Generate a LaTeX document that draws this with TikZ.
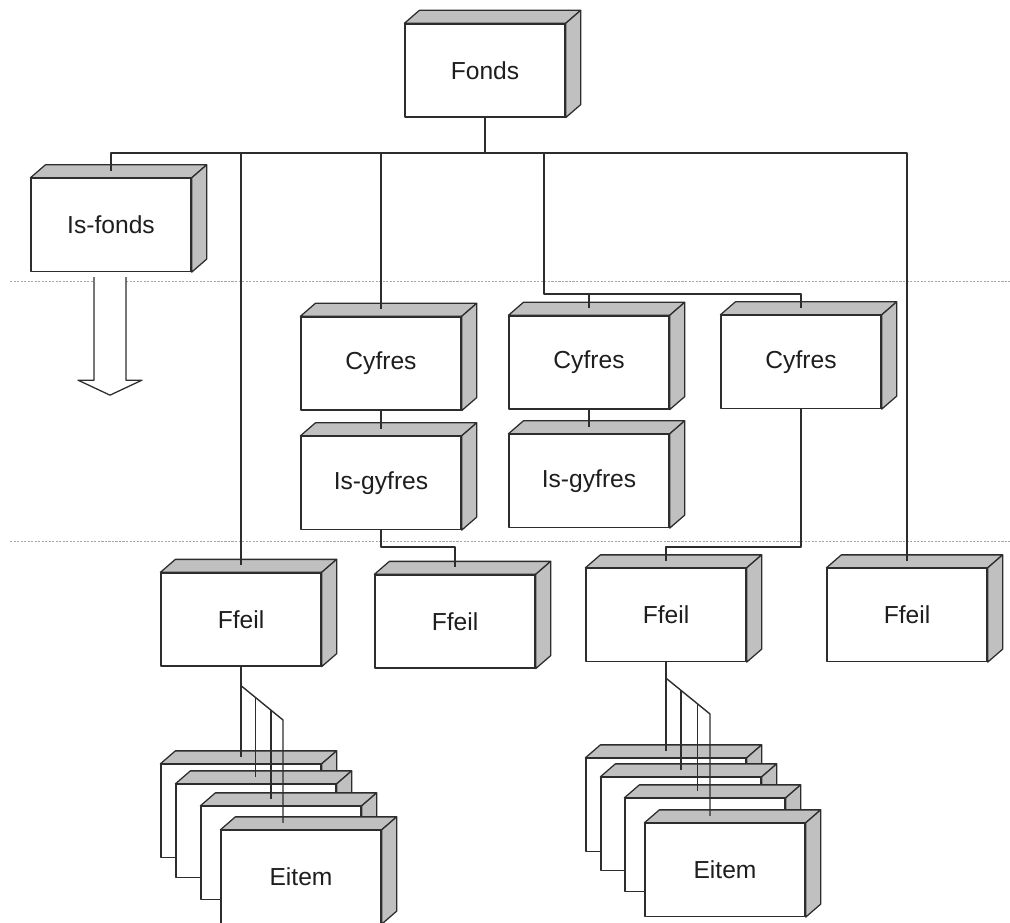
\documentclass[tikz,border=0pt]{standalone}
\usepackage{fontspec}
\setmainfont{Liberation Sans}
\usetikzlibrary{calc}
\definecolor{sidegray}{RGB}{192,192,192}
\definecolor{textgray}{RGB}{30,30,30}
\definecolor{linegray}{RGB}{45,45,45}
\tikzset{
  crate/.style={draw,fill=white,minimum width=4cm,minimum height=2.325cm,inner sep=0pt,
    font=\fontsize{17.5}{21}\selectfont,text=textgray},
  link/.style={line width=1pt},
  divider/.style={gray!70,line width=0.7pt,dash pattern=on 1.5pt off 1pt}
}
% a box with a grey top and right side
\newcommand{\bocs}[3]{%
  \node[crate] (#1) at (#2) {#3};
  \filldraw[fill=sidegray] (#1.north west) -- ($(#1.north west)+(15,-13)$)
    -- ($(#1.north east)+(15,-13)$) -- (#1.north east) -- cycle;
  \filldraw[fill=sidegray] (#1.north east) -- ($(#1.north east)+(15,-13)$)
    -- ($(#1.south east)+(15,-13)$) -- (#1.south east) -- cycle;
  \coordinate (#1-top) at ($(#1.north)+(0,-7)$);
}
\begin{document}
\begin{tikzpicture}[x=0.025cm,y=-0.025cm,line width=0.9pt,line join=round,draw=linegray]
\useasboundingbox (0,0) rectangle (1010,922);
\draw[divider] (10,281)--(1010,281);
\draw[divider] (10,541)--(1010,541);
% levels
\bocs{fonds}{485,70.5}{Fonds}
\bocs{isfonds}{111,225}{Is-fonds}
\bocs{cyfres1}{381,363.5}{Cyfres}
\bocs{isgyfres1}{381,483}{Is-gyfres}
\bocs{cyfres2}{589,362.5}{Cyfres}
\bocs{isgyfres2}{589,481}{Is-gyfres}
\bocs{cyfres3}{801,362}{Cyfres}
\bocs{ffeil1}{241,619.5}{Ffeil}
\bocs{ffeil2}{455,621.5}{Ffeil}
\bocs{ffeil3}{666,615}{Ffeil}
\bocs{ffeil4}{907,615}{Ffeil}
% items
\bocs{eitemA1}{241,811}{}
\bocs{eitemA2}{256,831}{}
\bocs{eitemA3}{281,853}{}
\bocs{eitemA4}{301,877}{Eitem}
\bocs{eitemB1}{666,805}{}
\bocs{eitemB2}{681,824}{}
\bocs{eitemB3}{705,845}{}
\bocs{eitemB4}{725,870}{Eitem}
% arrow below Is-fonds
\coordinate (drop) at ($(isfonds.south)+(-1,5)$);
\filldraw[fill=white] ($(drop)+(-16,0)$) -- ++(0,103) -- ++(-16,0) -- ($(drop)+(0,118)$)
  -- ($(drop)+(32,103)$) -- ++(-16,0) -- ($(drop)+(16,0)$);
% connectors
\coordinate (bus) at (500,153);
\coordinate (split) at (544,294);
\coordinate (low) at (500,547);
\draw[link] (fonds.south) -- (fonds.south |- bus);
\draw[link] (isfonds-top) |- (bus -| ffeil4-top) -- (ffeil4-top);
\draw[link] (ffeil1-top) -- (ffeil1-top |- bus);
\draw[link] (cyfres1-top) -- (cyfres1-top |- bus);
\draw[link] (split |- bus) -- (split) -| (cyfres3-top);
\draw[link] (cyfres2-top) -- (cyfres2-top |- split);
\draw[link] (cyfres1.south) -- (isgyfres1-top);
\draw[link] (cyfres2.south) -- (isgyfres2-top);
\draw[link] (isgyfres1.south) -- (isgyfres1.south |- low) -| (ffeil2-top);
\draw[link] (cyfres3.south) -- (cyfres3.south |- low) -| (ffeil3-top);
% items of the first file
\coordinate (forkA) at ($(ffeil1.south)+(0,19)$);
\coordinate (forkAend) at (283,720);
\coordinate (tapA2) at ($(forkA)!0.34!(forkAend)$);
\coordinate (tapA3) at ($(forkA)!0.71!(forkAend)$);
\draw[link] (ffeil1.south) -- (ffeil1.south |- eitemA1-top);
\draw[link] (forkA) -- (forkAend) -- (forkAend |- eitemA4-top);
\draw[link] (tapA2) -- (tapA2 |- eitemA2-top);
\draw[link] (tapA3) -- (tapA3 |- eitemA3-top);
% items of the third file
\coordinate (forkB) at ($(ffeil3.south)+(0,16)$);
\coordinate (forkBend) at (710,714);
\coordinate (tapB2) at ($(forkB)!0.34!(forkBend)$);
\coordinate (tapB3) at ($(forkB)!0.72!(forkBend)$);
\draw[link] (ffeil3.south) -- (ffeil3.south |- eitemB1-top);
\draw[link] (forkB) -- (forkBend) -- (forkBend |- eitemB4-top);
\draw[link] (tapB2) -- (tapB2 |- eitemB2-top);
\draw[link] (tapB3) -- (tapB3 |- eitemB3-top);
\end{tikzpicture}
\end{document}
